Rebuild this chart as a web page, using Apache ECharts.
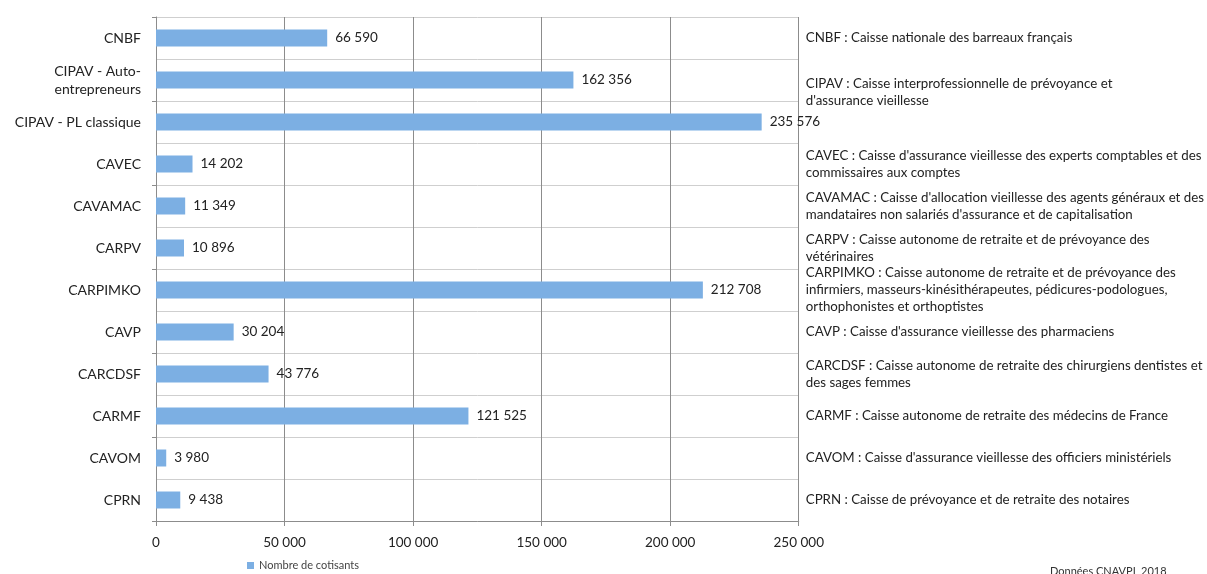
<!DOCTYPE html>
<html>
<head>
<meta charset="utf-8">
<script src="https://cdn.jsdelivr.net/npm/echarts@6/dist/echarts.min.js"></script>
<style>
html,body{margin:0;padding:0;background:#fff;}
#c{width:1207px;height:574px;}
</style>
</head>
<body>
<div id="c"></div>
<script>
const categories = ["CNBF", "CIPAV - Auto-\nentrepreneurs", "CIPAV - PL classique", "CAVEC", "CAVAMAC", "CARPV", "CARPIMKO", "CAVP", "CARCDSF", "CARMF", "CAVOM", "CPRN"];
const values = [66590, 162356, 235576, 14202, 11349, 10896, 212708, 30204, 43776, 121525, 3980, 9438];
const descriptions = [
  "CNBF : Caisse nationale des barreaux français",
  "CIPAV : Caisse interprofessionnelle de prévoyance et\nd'assurance vieillesse",
  "",
  "CAVEC : Caisse d'assurance vieillesse des experts comptables et des\ncommissaires aux comptes",
  "CAVAMAC : Caisse d'allocation vieillesse des agents généraux et des\nmandataires non salariés d'assurance et de capitalisation",
  "CARPV : Caisse autonome de retraite et de prévoyance des\nvétérinaires",
  "CARPIMKO : Caisse autonome de retraite et de prévoyance des\ninfirmiers, masseurs-kinésithérapeutes, pédicures-podologues,\northophonistes et orthoptistes",
  "CAVP : Caisse d'assurance vieillesse des pharmaciens",
  "CARCDSF : Caisse autonome de retraite des chirurgiens dentistes et\ndes sages femmes",
  "CARMF : Caisse autonome de retraite des médecins de France",
  "CAVOM : Caisse d'assurance vieillesse des officiers ministériels",
  "CPRN : Caisse de prévoyance et de retraite des notaires"
];
const seriesName = "Nombre de cotisants";
const sourceText = "Données CNAVPL 2018";

function fmt(v){ return String(v).replace(/\B(?=(\d{3})+(?!\d))/g, " "); }

const FONT = "Lato";

const chart = echarts.init(document.getElementById('c'));
chart.setOption({
  animation: false,
  textStyle: { fontFamily: FONT },
  grid: { left: 156, right: 408, top: 17, bottom: 53, containLabel: false },
  legend: {
    data: [seriesName],
    left: 242, top: 555,
    itemWidth: 7, itemHeight: 7, itemGap: 4,
    icon: 'rect',
    textStyle: { fontFamily: FONT, fontSize: 11, color: '#444' }
  },
  xAxis: {
    type: 'value', min: 0, max: 250000, interval: 50000,
    axisLine: { show: true, lineStyle: { color: '#8c8c8c' } },
    axisTick: { show: true, length: 5, lineStyle: { color: '#8c8c8c' } },
    splitLine: { show: true, lineStyle: { color: '#8c8c8c', width: 1 } },
    axisLabel: { formatter: fmt, fontFamily: FONT, fontSize: 13.5, color: '#222', margin: 15 }
  },
  yAxis: [{
    type: 'category', data: categories, inverse: true, position: 'left',
    axisLine: { show: true, lineStyle: { color: '#8c8c8c' } },
    axisTick: { show: true, interval: 1, length: 4, lineStyle: { color: '#8c8c8c' } },
    splitLine: { show: true, lineStyle: { color: '#cfcfcf' } },
    axisLabel: { fontFamily: FONT, fontSize: 14, color: '#222', margin: 15, lineHeight: 18 }
  }, {
    type: 'category', data: descriptions, inverse: true, position: 'right',
    axisLine: { show: false }, axisTick: { show: false }, splitLine: { show: false },
    axisLabel: {
      fontFamily: FONT, fontSize: 13.3, color: '#222', margin: 7, align: 'left', lineHeight: 17, interval: 0,
      formatter: (v, i) => i === 1 ? '{gap| }\n{t|' + v.split('\n').join('}\n{t|') + '}' : v,
      rich: {
        gap: { lineHeight: 25, fontSize: 4 },
        t: { fontFamily: FONT, fontSize: 13.3, color: '#222', lineHeight: 17 }
      }
    }
  }],
  series: [{
    name: seriesName, type: 'bar', data: values, yAxisIndex: 0,
    barWidth: 17,
    itemStyle: { color: '#7cafe3' },
    label: { show: true, position: 'right', distance: 8, formatter: p => fmt(p.value), fontFamily: FONT, fontSize: 13.5, color: '#222' }
  }],
  graphic: [{
    type: 'text', left: 1050, top: 566,
    style: { text: sourceText, fontFamily: FONT, fontSize: 11, fill: '#333' }
  }]
});
</script>
</body>
</html>
